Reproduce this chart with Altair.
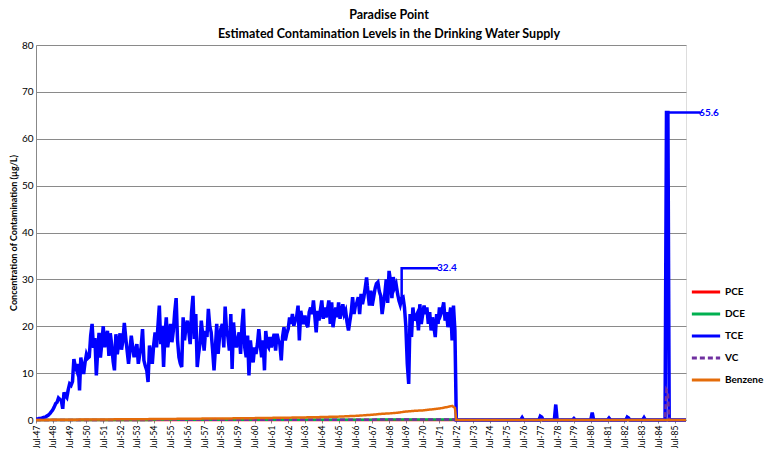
import altair as alt
import pandas as pd

# ---------------- data ----------------
series_names = ["PCE", "DCE", "TCE", "VC", "Benzene"]
series_colors = ["#FF0000", "#00B050", "#0000FF", "#7030A0", "#E46C0A"]
series_dash = [[1, 0], [1, 0], [1, 0], [5, 3], [1, 0]]

# TCE monthly values, Jul-1947 .. Jun-1972
tce_start = "1947-07-01"
tce_monthly = [
    0.2, 0.2, 0.3, 0.3, 0.4, 0.5, 0.6, 0.7, 0.9, 1.1,
    1.4, 1.8, 2.2, 2.8, 3.5, 3.8, 4.7, 4.4, 4.2, 2.4,
    5.9, 5.2, 4.8, 6.5, 7.7, 7.4, 8.2, 13.0, 11.5, 10.6,
    12.0, 6.3, 13.3, 11.5, 9.8, 12.3, 14.0, 13.2, 13.5, 18.0,
    20.5, 15.4, 17.5, 9.5, 14.5, 18.6, 13.3, 16.5, 20.0, 15.5,
    17.5, 19.0, 13.7, 18.5, 16.0, 12.5, 10.6, 18.3, 14.0, 16.5,
    18.5, 15.0, 17.0, 20.7, 17.5, 14.8, 12.0, 15.0, 18.0, 15.5,
    13.4, 15.0, 16.2, 12.0, 14.0, 15.5, 19.4, 12.7, 11.5, 10.6,
    8.1, 15.9, 14.1, 12.0, 16.0, 18.7, 15.5, 20.0, 24.4, 16.2,
    20.1, 11.3, 18.0, 21.9, 15.5, 18.0, 20.5, 16.6, 19.0, 23.0,
    26.0, 17.0, 13.4, 12.0, 11.3, 21.9, 17.0, 19.8, 21.2, 19.0,
    16.2, 23.0, 26.5, 17.3, 22.6, 11.3, 14.0, 16.2, 21.2, 18.0,
    14.8, 19.0, 17.7, 23.7, 20.0, 18.7, 15.0, 10.6, 15.0, 20.5,
    14.1, 17.7, 19.5, 20.5, 15.5, 24.2, 19.0, 17.7, 14.8, 22.6,
    10.9, 20.8, 17.0, 15.5, 17.3, 18.7, 14.1, 20.0, 23.7, 15.5,
    13.4, 18.0, 9.5, 17.0, 14.0, 12.3, 15.5, 14.1, 16.2, 19.4,
    16.0, 13.4, 17.0, 10.6, 19.0, 16.0, 15.5, 17.7, 15.5, 17.0,
    18.4, 14.8, 18.4, 17.0, 16.2, 12.7, 17.7, 19.8, 17.0, 18.5,
    19.4, 21.9, 20.5, 22.6, 20.1, 21.2, 22.0, 24.4, 17.0, 23.3,
    21.5, 20.5, 22.3, 20.5, 19.8, 23.0, 24.0, 22.6, 25.5, 22.0,
    18.7, 23.3, 21.2, 23.5, 25.5, 21.6, 24.0, 21.9, 23.5, 25.5,
    20.5, 25.1, 19.8, 22.0, 24.0, 21.9, 25.1, 21.6, 23.0, 24.7,
    22.6, 23.3, 20.8, 19.1, 21.0, 23.0, 26.2, 22.6, 24.4, 25.0,
    26.2, 22.6, 26.9, 24.7, 26.2, 28.3, 30.4, 27.0, 24.4, 27.6,
    24.4, 26.2, 28.0, 29.1, 29.4, 27.5, 26.5, 22.6, 24.7, 27.0,
    30.0, 25.0, 31.8, 29.7, 26.0, 30.5, 28.3, 29.0, 27.0, 25.5,
    24.6, 26.0, 26.2, 24.0, 20.0, 12.0, 7.7, 22.6, 17.7, 24.0,
    21.2, 22.0, 22.6, 19.1, 24.7, 20.5, 22.5, 24.4, 22.6, 24.0,
    20.5, 23.0, 19.1, 21.9, 20.0, 17.7, 22.6, 20.5, 24.0, 22.6,
    23.5, 25.1, 21.2, 23.0, 19.8, 22.0, 24.0, 17.0, 24.4, 19.1,
]

# TCE after mid-1972
tce_late_dates = [
    "1972-07-01", "1976-05-01", "1976-06-01", "1976-07-01",
    "1977-06-01", "1977-07-01", "1977-08-01", "1977-09-01",
    "1978-05-01", "1978-06-01", "1978-07-01",
    "1979-06-01", "1979-07-01", "1979-08-01",
    "1980-07-01", "1980-08-01", "1980-09-01",
    "1981-07-01", "1981-08-01", "1981-09-01",
    "1982-08-01", "1982-09-01", "1982-10-01", "1982-11-01",
    "1983-08-01", "1983-09-01", "1983-10-01",
    "1984-12-01", "1985-01-01", "1985-02-01", "1985-03-01",
    "1986-03-01",
]
tce_late_vals = [
    0, 0, 0.5, 0,
    0, 0.8, 0.6, 0,
    0, 3.3, 0,
    0, 0.3, 0,
    0, 1.6, 0,
    0, 0.4, 0,
    0, 0.6, 0.4, 0,
    0, 0.5, 0,
    0, 65.6, 65.6, 0,
    0,
]

benz_dates = [
    "1947-07-01", "1948-01-01", "1948-07-01", "1949-01-01", "1949-07-01",
    "1950-01-01", "1950-07-01", "1951-01-01", "1951-07-01", "1952-01-01",
    "1952-07-01", "1953-01-01", "1953-07-01", "1954-01-01", "1954-07-01",
    "1955-01-01", "1955-07-01", "1956-01-01", "1956-07-01", "1957-01-01",
    "1957-07-01", "1958-01-01", "1958-07-01", "1959-01-01", "1959-07-01",
    "1960-01-01", "1960-07-01", "1961-01-01", "1961-07-01", "1962-01-01",
    "1962-07-01", "1963-01-01", "1963-07-01", "1964-01-01", "1964-07-01",
    "1965-01-01", "1965-07-01", "1966-01-01", "1966-07-01", "1967-01-01",
    "1967-07-01", "1968-01-01", "1968-07-01", "1969-01-01", "1969-07-01",
    "1970-01-01", "1970-07-01", "1971-01-01", "1971-07-01", "1972-01-01",
    "1972-04-01", "1972-06-01", "1972-07-01", "1986-03-01",
]
benz_vals = [
    0.0, 0.02, 0.03, 0.05, 0.06,
    0.08, 0.10, 0.10, 0.12, 0.13,
    0.15, 0.15, 0.17, 0.18, 0.20,
    0.20, 0.22, 0.25, 0.25, 0.28,
    0.30, 0.30, 0.32, 0.34, 0.36,
    0.38, 0.40, 0.42, 0.45, 0.48,
    0.50, 0.52, 0.55, 0.60, 0.62,
    0.68, 0.72, 0.80, 0.88, 1.00,
    1.12, 1.30, 1.40, 1.55, 1.80,
    1.95, 2.05, 2.25, 2.45, 2.80,
    3.00, 2.60, 0.0, 0.0,
]

pce_dates = ["1947-07-01", "1986-03-01"]
pce_vals = [0.0, 0.0]
dce_dates = ["1947-07-01", "1960-07-01", "1972-06-01", "1972-07-01", "1986-03-01"]
dce_vals = [0.0, 0.05, 0.1, 0.0, 0.0]
vc_dates = ["1947-07-01", "1960-07-01", "1972-06-01", "1972-07-01",
            "1984-12-01", "1985-01-01", "1985-02-01", "1985-03-01", "1986-03-01"]
vc_vals = [0.0, 0.05, 0.1, 0.0, 0.0, 6.5, 6.0, 0.0, 0.0]

# max-value labels with leader lines
max1_dates = ["1969-04-01", "1969-04-01", "1971-06-01"]
max1_vals = [26.0, 32.4, 32.4]
max1_text = "32.4"
max2_dates = ["1985-02-01", "1987-01-01"]
max2_vals = [65.6, 65.6]
max2_text = "65.6"

tick_years = list(range(1947, 1986))

# ---------------- build tables ----------------
tce_dates = list(pd.date_range(tce_start, periods=len(tce_monthly), freq="MS")) + list(pd.to_datetime(tce_late_dates))
tce_vals = tce_monthly + tce_late_vals

frames = []
for name, d, v in [("PCE", pce_dates, pce_vals), ("DCE", dce_dates, dce_vals),
                   ("TCE", tce_dates, tce_vals), ("VC", vc_dates, vc_vals),
                   ("Benzene", benz_dates, benz_vals)]:
    frames.append(pd.DataFrame({"date": pd.to_datetime(d), "value": v, "series": name}))
df = pd.concat(frames, ignore_index=True)

lead = pd.concat([
    pd.DataFrame({"date": pd.to_datetime(max1_dates), "value": max1_vals, "grp": "a", "step": range(len(max1_vals))}),
    pd.DataFrame({"date": pd.to_datetime(max2_dates), "value": max2_vals, "grp": "b", "step": range(len(max2_vals))}),
], ignore_index=True)
labels = pd.DataFrame({
    "date": pd.to_datetime([max1_dates[-1], max2_dates[-1]]),
    "value": [max1_vals[-1], max2_vals[-1]],
    "text": [max1_text, max2_text],
})

FONT = "Lato"
x_domain = [alt.DateTime(year=1947, month=7, date=1), alt.DateTime(year=1986, month=3, date=1)]

x_axis = alt.Axis(
    values=[alt.DateTime(year=y, month=7, date=1) for y in tick_years],
    format="%b-%y", labelAngle=-90, labelFont=FONT, labelFontSize=8.5,
    labelColor="black", domainColor="#888888", tickColor="#888888",
    tickSize=3, grid=False, title=None, labelPadding=2, labelBaseline="middle",
    labelAlign="right", labelOverlap=False, labelBound=False, labelSeparation=0,
)
x_enc = alt.X("date:T", scale=alt.Scale(domain=x_domain), axis=x_axis)
y_enc = alt.Y(
    "value:Q",
    scale=alt.Scale(domain=[0, 80]),
    axis=alt.Axis(
        values=list(range(0, 81, 10)), labelFont=FONT, labelFontSize=10,
        labelColor="black", domainColor="#888888", ticks=False,
        gridColor="#8a8a8a", gridWidth=1, labelPadding=3,
        title="Concentration of Contamination (µg/L)", titleFont=FONT,
        titleFontSize=9, titleFontWeight="bold", titleColor="black", titlePadding=3,
    ),
)
legend = alt.Legend(
    title=None, orient="none", legendX=654, legendY=231, symbolType="stroke",
    symbolSize=800, symbolStrokeWidth=3, labelFont=FONT, labelFontSize=10,
    labelFontWeight="bold", labelColor="black", rowPadding=0, labelOffset=3,
)
color_enc = alt.Color("series:N", scale=alt.Scale(domain=series_names, range=series_colors), legend=legend)
dash_enc = alt.StrokeDash("series:N", scale=alt.Scale(domain=series_names, range=series_dash), legend=legend)

layers = []
for name in series_names:
    w = 3.5 if name == "TCE" else 2.5
    layers.append(
        alt.Chart(df).transform_filter(alt.datum.series == name)
        .mark_line(strokeWidth=w)
        .encode(x=x_enc, y=y_enc, color=color_enc, strokeDash=dash_enc)
    )

leader = alt.Chart(lead).mark_line(color="#0000FF", strokeWidth=2.5).encode(
    x=x_enc, y=y_enc, detail="grp:N", order="step:Q"
)
label_text = alt.Chart(labels).mark_text(
    align="left", baseline="middle", dx=-1, font=FONT, fontSize=10,
    fontWeight="bold", color="#0000FF"
).encode(x=x_enc, y=y_enc, text="text:N")

chart = alt.layer(*layers, leader, label_text).properties(
    width=650, height=375,
    title=alt.TitleParams(
        ["Paradise Point", "Estimated Contamination Levels in the Drinking Water Supply"],
        font=FONT, fontSize=12.5, fontWeight="bold", color="black",
        anchor="middle", dx=28, offset=0, lineHeight=19,
    ),
    autosize=alt.AutoSizeParams(type="none"),
    padding={"left": 28, "top": 37, "right": 84, "bottom": 28},
).configure_view(stroke=None).configure_axisX(labelOverlap=False).configure(background="white")

chart.save("out.html", embed_options={"renderer": "svg", "actions": False})
